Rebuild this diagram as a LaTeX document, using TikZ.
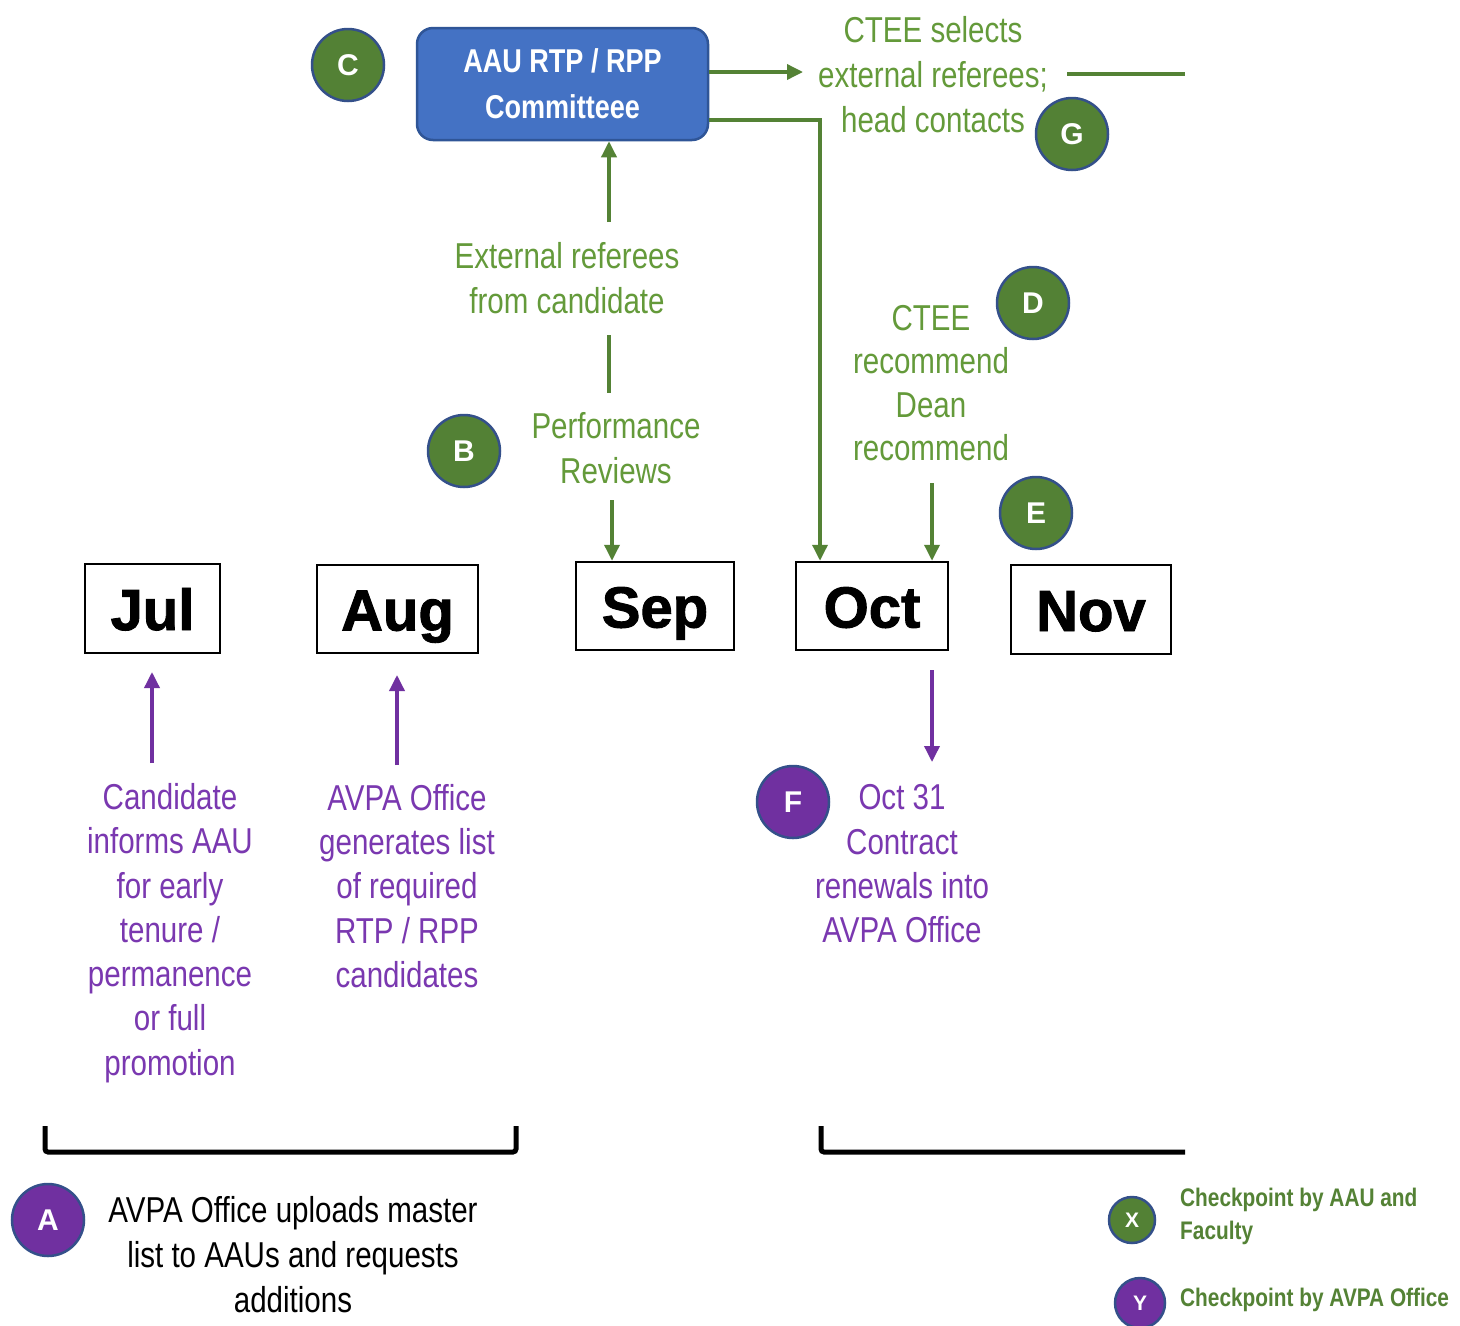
\documentclass[tikz,border=0pt]{standalone}
\usepackage{fontspec}
\setmainfont[FakeStretch=0.82]{Liberation Sans}
\newfontfamily\monthfont[BoldFeatures={FakeBold=1.6}]{Liberation Sans}
\newfontfamily\circfont{Liberation Sans}
\usetikzlibrary{arrows.meta}
\definecolor{gtext}{HTML}{649A3A}
\definecolor{gline}{HTML}{548235}
\definecolor{gcirc}{HTML}{538135}
\definecolor{cborder}{HTML}{34508A}
\definecolor{purp}{HTML}{7030A0}
\definecolor{ptext}{HTML}{7A38B0}
\definecolor{bbox}{HTML}{4472C4}
\definecolor{bborder}{HTML}{2F5597}
\tikzset{
  gcircle/.style={circle, fill=gcirc, draw=cborder, line width=2.5pt, minimum size=72pt, inner sep=0pt, text=white, font=\circfont\fontsize{30}{30}\selectfont\bfseries},
  pcircle/.style={gcircle, fill=purp},
  month/.style={draw=black, line width=2.5pt, inner sep=0pt, text height=43pt, text depth=0pt, font=\monthfont\fontsize{58}{60}\selectfont\bfseries},
  gtxt/.style={text=gtext, align=center, inner sep=0pt, font=\fontsize{36}{45}\selectfont},
  ptxt/.style={text=ptext, align=center, inner sep=0pt, font=\fontsize{36}{44.3}\selectfont},
  garrow/.style={draw=gline, line width=3.5pt, -{Triangle[length=16pt,width=15pt]}},
  gline/.style={draw=gline, line width=3.5pt},
  parrow/.style={draw=purp, line width=3.5pt, -{Triangle[length=16pt,width=15pt]}},
  bracket/.style={draw=black, line width=5pt, rounded corners=3pt},
}
\begin{document}
\begin{tikzpicture}[x=1pt,y=-1pt]
\useasboundingbox[fill=white] (0,0) rectangle (1460,1326);

% committee box
\node[draw=bborder, fill=bbox, line width=2.5pt, rounded corners=16pt, minimum width=291pt, minimum height=112pt, inner sep=0pt, text=white, align=center, font=\fontsize{33}{46}\selectfont\bfseries] (aau) at (562.5,84) {AAU RTP / RPP\\Committeee};
\node[gcircle] (C) at (348,65) {C};

% CTEE selects
\node[gtxt] (ctee) at (933,75) {CTEE selects\\external referees;\\head contacts};
\node[gcircle] (G) at (1072,134) {G};
\coordinate (c1) at (803,72);
\draw[garrow] (c1 -| aau.east) -- (c1);
\coordinate (c4a) at (1067,74);
\coordinate (c4b) at (1185,74);
\draw[gline] (c4a) -- (c4b);

% month boxes
\node[month, minimum width=135pt, minimum height=89pt] (jul) at (152.5,608.5) {Jul};
\node[month, minimum width=161pt, minimum height=88pt] (aug) at (397.5,609) {Aug};
\node[month, minimum width=158pt, minimum height=88pt] (sep) at (655,606) {Sep};
\node[month, minimum width=152pt, minimum height=88pt] (oct) at (872,606) {Oct};
\node[month, minimum width=160pt, minimum height=89pt] (nov) at (1091,609.5) {Nov};

% line from committee to Oct
\coordinate (c2) at (820,120);
\draw[garrow] (c2 -| aau.east) -- (c2) -- (c2 |- oct.north);

% external referees
\node[gtxt] (extref) at (567,278) {External referees\\from candidate};
\coordinate (c3) at (609,222);
\draw[garrow] (c3) -- (c3 |- aau.south);
\coordinate (c5a) at (609,335);
\coordinate (c5b) at (609,393);
\draw[gline] (c5a) -- (c5b);

% performance reviews
\node[gcircle] (B) at (464,451) {B};
\node[gtxt] (perf) at (616,448) {Performance\\Reviews};
\coordinate (c6) at (612,500);
\draw[garrow] (c6) -- (c6 |- sep.north);

% CTEE recommend
\node[gcircle] (D) at (1033,303) {D};
\node[gtxt, font=\fontsize{36}{43.5}\selectfont] (rec) at (931,383) {CTEE\\recommend\\Dean\\recommend};
\coordinate (c7) at (932,483);
\draw[garrow] (c7) -- (c7 |- oct.north);
\node[gcircle] (E) at (1036,513) {E};

% purple texts
\node[ptxt] (cand) at (170,933) {Candidate\\informs AAU\\for early\\tenure /\\permanence\\or full\\promotion};
\coordinate (p1s) at (152,763);
\coordinate (p1e) at (152,672);
\draw[parrow] (p1s) -- (p1e);

\node[ptxt] (avpa) at (407,886) {AVPA Office\\generates list\\of required\\RTP / RPP\\candidates};
\coordinate (p2s) at (397,765);
\coordinate (p2e) at (397,675);
\draw[parrow] (p2s) -- (p2e);

\node[pcircle] (F) at (793,802) {F};
\node[ptxt] (oct31) at (902,864) {Oct 31\\Contract\\renewals into\\AVPA Office};
\coordinate (p3s) at (932,670);
\coordinate (p3e) at (932,762);
\draw[parrow] (p3s) -- (p3e);

% brackets
\coordinate (b1a) at (45,1126);
\coordinate (b1b) at (516,1126);
\draw[bracket] (b1a) -- (45,1152) -- (516,1152) -- (b1b);
\coordinate (b2a) at (821,1126);
\coordinate (b2b) at (1185,1152);
\draw[bracket] (b2a) -- (b2a |- b2b) -- (b2b);

% A
\node[pcircle] (A) at (48,1220) {A};
\node[align=center, inner sep=0pt, font=\fontsize{36}{45}\selectfont] (upl) at (293,1255) {AVPA Office uploads master\\list to AAUs and requests\\additions};

% legend
\node[gcircle, minimum size=46pt, font=\circfont\fontsize{21}{21}\selectfont\bfseries] (X) at (1132,1220) {X};
\node[anchor=west, align=left, inner sep=0pt, text=gline, font=\fontsize{25.4}{33}\selectfont\bfseries] (lx) at (1180,1216) {Checkpoint by AAU and\\Faculty};
\node[pcircle, minimum size=50pt, font=\circfont\fontsize{21}{21}\selectfont\bfseries] (Y) at (1140,1303) {Y};
\node[anchor=west, inner sep=0pt, text=gline, font=\fontsize{25.4}{33}\selectfont\bfseries] (ly) at (1180,1300) {Checkpoint by AVPA Office};
\end{tikzpicture}
\end{document}
